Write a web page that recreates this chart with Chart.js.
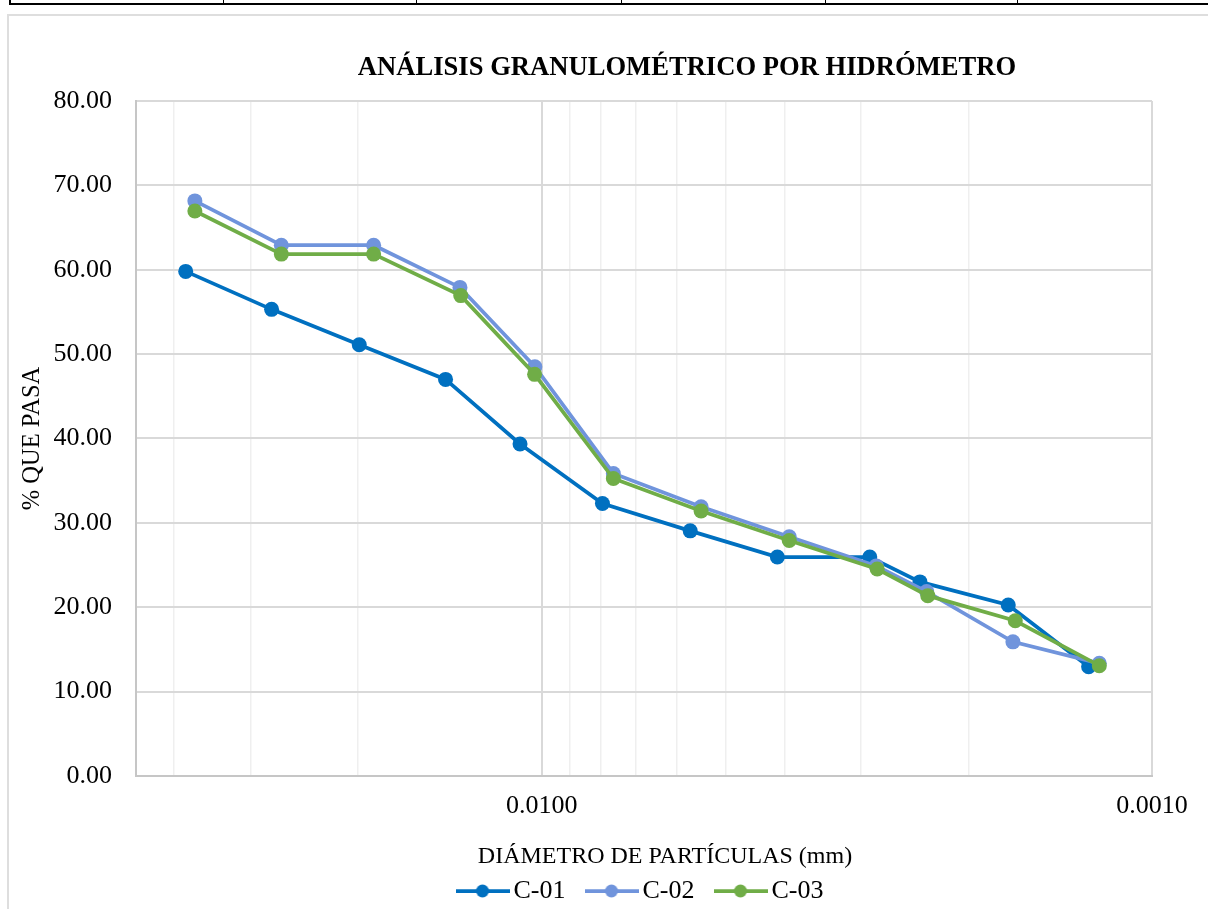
<!DOCTYPE html>
<html>
<head>
<meta charset="utf-8">
<script src="https://cdn.jsdelivr.net/npm/chart.js@4.4.1/dist/chart.umd.min.js"></script>
<style>
  html, body { margin: 0; padding: 0; background: #fff; width: 1208px; height: 909px; overflow: hidden; position: relative; }
  .hline { position: absolute; left: 9px; top: 3px; width: 1210px; height: 2px; background: #000; }
  .vline { position: absolute; top: 0; width: 1px; height: 4px; background: #000; }
  .frame { position: absolute; left: 7px; top: 14px; width: 1400px; height: 1000px; border: 2px solid #dedede; box-sizing: border-box; }
  #c { position: absolute; left: 0; top: 0; }
</style>
</head>
<body>
<div class="hline"></div>
<div class="vline" style="left:9px;width:2px"></div>
<div class="vline" style="left:223px"></div>
<div class="vline" style="left:416px"></div>
<div class="vline" style="left:621px"></div>
<div class="vline" style="left:825px"></div>
<div class="vline" style="left:1017px"></div>
<div class="frame"></div>
<canvas id="c" width="1366" height="914"></canvas>
<script>
// ---- data ----
const seriesNames = ['C-01', 'C-02', 'C-03'];
const c01Diameter = [0.0383, 0.0277, 0.0199, 0.01437, 0.01085, 0.00795, 0.00571, 0.00411, 0.00290, 0.00240, 0.00172, 0.00127];
const c01Pass     = [59.8, 55.3, 51.1, 47.0, 39.35, 32.3, 29.05, 25.95, 25.95, 23.0, 20.27, 12.95];
const c02Diameter = [0.0370, 0.0267, 0.01885, 0.01361, 0.01026, 0.00763, 0.00548, 0.00393, 0.00283, 0.00234, 0.00169, 0.00122];
const c02Pass     = [68.15, 62.9, 62.9, 57.9, 48.5, 35.85, 31.9, 28.35, 24.9, 21.85, 15.9, 13.35];
const c03Diameter = [0.0370, 0.0267, 0.01885, 0.01357, 0.01027, 0.00763, 0.00548, 0.00393, 0.00282, 0.00233, 0.001675, 0.00122];
const c03Pass     = [66.95, 61.85, 61.85, 56.93, 47.6, 35.25, 31.4, 27.9, 24.53, 21.37, 18.4, 13.07];
const xGridValues = [0.001, 0.002, 0.003, 0.004, 0.005, 0.006, 0.007, 0.008, 0.009, 0.01, 0.02, 0.03, 0.04];
const xTickLabels = { '0.001': '0.0010', '0.01': '0.0100' };
const xMin = 0.001, xMax = 0.0462;
const yMin = 0, yMax = 80, yStep = 10;

const colors = ['#0070C0', '#7094DC', '#70AD47'];
const FONT = "'Liberation Serif', 'Times New Roman', serif";

function pts(xs, ys) { return xs.map((x, i) => ({ x: x, y: ys[i] })); }
const seriesData = [pts(c01Diameter, c01Pass), pts(c02Diameter, c02Pass), pts(c03Diameter, c03Pass)];

function legendIcon(color) {
  const cv = document.createElement('canvas');
  cv.width = 54; cv.height = 16;
  const g = cv.getContext('2d');
  g.strokeStyle = color; g.lineWidth = 3.75;
  g.beginPath(); g.moveTo(0, 8); g.lineTo(54, 8); g.stroke();
  g.fillStyle = color;
  g.beginPath(); g.arc(27, 8, 6.5, 0, Math.PI * 2); g.fill();
  return cv;
}
const icons = colors.map(legendIcon);

const xTitlePlugin = {
  id: 'xTitle',
  afterDraw(chart) {
    const ctx = chart.ctx;
    ctx.save();
    ctx.font = "24px " + FONT;
    ctx.fillStyle = '#000';
    ctx.textAlign = 'center';
    ctx.textBaseline = 'middle';
    ctx.fillText('DIÁMETRO DE PARTÍCULAS (mm)', 665, 857);
    ctx.restore();
  }
};

new Chart(document.getElementById('c'), {
  type: 'scatter',
  data: {
    datasets: seriesNames.map((name, i) => ({
      label: name,
      data: seriesData[i],
      showLine: true,
      borderColor: colors[i],
      backgroundColor: colors[i],
      borderWidth: 3.75,
      pointRadius: 7.5,
      pointHoverRadius: 7.5,
      pointBorderWidth: 0,
      pointBackgroundColor: colors[i],
      order: 3 - i
    }))
  },
  options: {
    responsive: false,
    animation: false,
    devicePixelRatio: 1,
    layout: { padding: { left: 8, right: 0, top: 0, bottom: 0 } },
    plugins: {
      tooltip: { enabled: false },
      title: {
        display: true,
        text: 'ANÁLISIS GRANULOMÉTRICO POR HIDRÓMETRO',
        color: '#000',
        font: { family: FONT, size: 26.6, weight: 'bold' },
        padding: { top: 52, bottom: 17 }
      },
      legend: {
        position: 'bottom',
        fullSize: false,
        labels: {
          color: '#000',
          font: { family: FONT, size: 26 },
          usePointStyle: true,
          pointStyleWidth: 36,
          padding: 28,
          sort: (a, b) => a.datasetIndex - b.datasetIndex,
          generateLabels(chart) {
            const items = Chart.defaults.plugins.legend.labels.generateLabels(chart);
            items.forEach(it => { it.pointStyle = icons[it.datasetIndex]; });
            return items;
          }
        }
      }
    },
    scales: {
      x: {
        type: 'logarithmic',
        reverse: true,
        min: xMin,
        max: xMax,
        afterBuildTicks(scale) { scale.ticks = xGridValues.map(v => ({ value: v })); },
        afterFit(scale) { scale.height = 74; },
        ticks: {
          autoSkip: false,
          maxRotation: 0,
          padding: 15,
          color: '#000',
          font: { family: FONT, size: 26 },
          callback(value) { return xTickLabels[String(value)] || ''; }
        },
        grid: {
          drawTicks: false,
          color: (c) => (c.tick && xTickLabels[String(c.tick.value)]) ? '#d9d9d9' : '#efefef',
          lineWidth: (c) => (c.tick && xTickLabels[String(c.tick.value)]) ? 2 : 1.5
        },
        border: { display: true, color: '#c6c6c6', width: 2 }
      },
      y: {
        type: 'linear',
        position: 'left',
        min: yMin,
        max: yMax,
        afterFit(scale) { scale.width = 128; },
        ticks: {
          stepSize: yStep,
          padding: 24,
          color: '#000',
          font: { family: FONT, size: 26 },
          callback(value) { return Number(value).toFixed(2); }
        },
        title: {
          display: true,
          text: '% QUE PASA',
          color: '#000',
          font: { family: FONT, size: 24.5 },
          padding: { top: 10, bottom: 0 }
        },
        grid: { drawTicks: false, color: '#d9d9d9', lineWidth: 2 },
        border: { display: true, color: '#c6c6c6', width: 2 }
      },
      yPad: {
        type: 'linear',
        position: 'right',
        display: true,
        afterFit(scale) { scale.width = 214; },
        ticks: { display: false },
        grid: { display: false, drawTicks: false },
        border: { display: false }
      }
    }
  },
  plugins: [xTitlePlugin]
});
</script>
</body>
</html>
